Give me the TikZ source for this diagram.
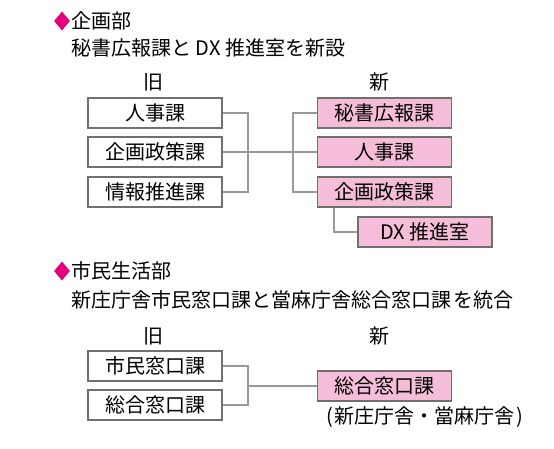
\documentclass[tikz,border=0pt]{standalone}
\usepackage{fontspec}
\setmainfont{Noto Sans CJK JP}
\usepackage{tikz}
\usetikzlibrary{shapes.geometric, positioning}
\definecolor{DeptPink}{HTML}{E4007F}
\definecolor{NewFill}{HTML}{F6BDD8}
\definecolor{BoxLine}{HTML}{707070}
\definecolor{LinkGray}{HTML}{999999}

\begin{document}
\begin{tikzpicture}[x=1pt, y=-1pt,
  deptmark/.style={diamond, fill=DeptPink, inner sep=0pt, minimum width=16pt, minimum height=19pt},
  head/.style={anchor=west, font=\fontsize{20}{24}\selectfont, inner sep=0pt},
  colhead/.style={font=\fontsize{20}{24}\selectfont, inner sep=0pt},
  oldbox/.style={rectangle, draw=BoxLine, line width=1.2pt, fill=white,
    font=\fontsize{20}{24}\selectfont, minimum width=134pt, minimum height=30pt, inner sep=0pt},
  newbox/.style={oldbox, fill=NewFill},
  link/.style={draw=LinkGray, line width=1.5pt}
]
\useasboundingbox (0,0) rectangle (554,448);

% 企画部
\node[deptmark] (m1) at (62,21) {};
\node[head] (t1) at (71,21) {企画部};
\node[head] (d1) at (71,48) {秘書広報課と DX 推進室を新設};
\node[colhead] (old1) at (153,82) {旧};
\node[colhead] (new1) at (379,82) {新};

\node[oldbox] (o1) at (155,113) {人事課};
\node[oldbox] (o2) at (155,152) {企画政策課};
\node[oldbox] (o3) at (155,192) {情報推進課};

\node[newbox] (n1) at (384.5,113) {秘書広報課};
\node[newbox] (n2) at (384.5,152) {人事課};
\node[newbox] (n3) at (384.5,192) {企画政策課};
\node[newbox] (dx) at (425,232) {DX 推進室};

\coordinate (j1) at (248,152);
\coordinate (j2) at (293,152);
\draw[link] (o1.east) -| (j1) |- (o3.east);
\draw[link] (o2.east) -- (n2.west);
\draw[link] (n1.west) -| (j2) |- (n3.west);
\draw[link] ([xshift=17pt]n3.south west) |- (dx.west);

% 市民生活部
\node[deptmark] (m2) at (62,271) {};
\node[head] (t2) at (71,271) {市民生活部};
\node[head] (d2) at (71,300) {新庄庁舎市民窓口課と當麻庁舎総合窓口課\hspace{2pt}を統合};
\node[colhead] (old2) at (153,336) {旧};
\node[colhead] (new2) at (379,336) {新};

\node[oldbox] (o4) at (155,366) {市民窓口課};
\node[oldbox] (o5) at (155,405) {総合窓口課};
\node[newbox] (n4) at (384.5,386) {総合窓口課};
\node[head] (note) at (326,417) {(\hspace{2pt}新庄庁舎・當麻庁舎\hspace{2pt})};

\coordinate (j3) at (248,386);
\draw[link] (o4.east) -| (j3) |- (o5.east);
\draw[link] (j3) -- (n4.west);
\end{tikzpicture}
\end{document}
